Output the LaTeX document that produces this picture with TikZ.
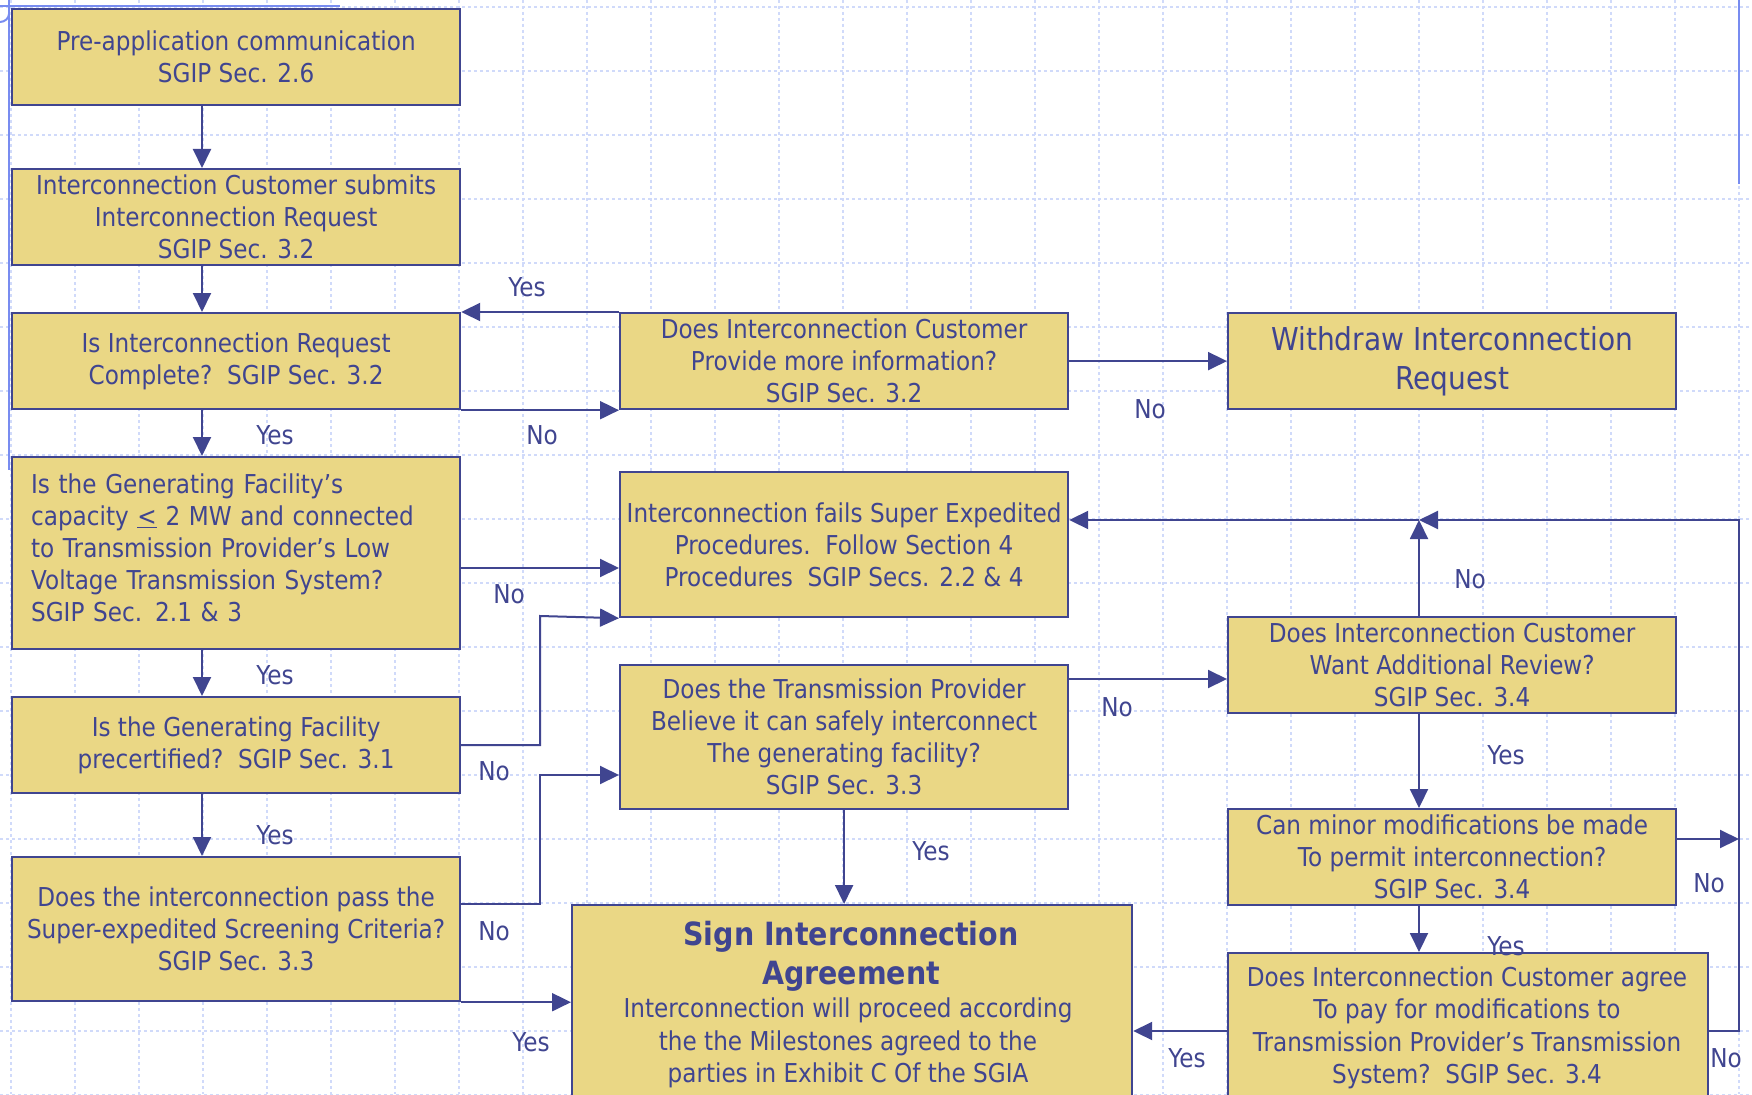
\documentclass[tikz,border=0pt]{standalone}
\usepackage{fontspec}
\setmainfont{DejaVu Sans}[FakeStretch=0.89]
\usetikzlibrary{arrows.meta,calc}
\definecolor{navy}{RGB}{64,69,144}
\definecolor{boxfill}{RGB}{234,215,133}
\definecolor{gridc}{RGB}{208,218,250}
\definecolor{deco}{RGB}{120,140,240}
\tikzset{
  box/.style={draw=navy, fill=boxfill, line width=2.2pt, anchor=north west, inner sep=0pt, text=navy, align=center, font=\fontsize{26}{32}\selectfont},
  txt/.style={text=navy, align=center, inner sep=0pt, font=\fontsize{26}{32.5}\selectfont},
  arr/.style={draw=navy, line width=2pt, -{Triangle[length=19pt,width=18pt]}},
  con/.style={draw=navy, line width=2pt},
  lbl/.style={text=navy, font=\fontsize{26}{32}\selectfont, inner sep=0pt},
  gridl/.style={draw=gridc, line width=1.2pt, dash pattern=on 3pt off 3pt},
  decol/.style={draw=deco, line width=2pt},
}
\begin{document}
\begin{tikzpicture}[x=1pt,y=-1pt]
\useasboundingbox (0,0) rectangle (1752,1094);
\fill[white] (0,0) rectangle (1752,1094);
% grid
\foreach \i in {0,...,27} \draw[gridl] ({11+64*\i},0) -- ({11+64*\i},1094);
\foreach \j in {0,...,17} \draw[gridl] (0,{7+64*\j}) -- (1752,{7+64*\j});
% slide decoration
\draw[decol] (9,0) -- (9,470);
\draw[decol] (0,6) -- (340,6);
\draw[decol] (1739,0) -- (1739,184);
\draw[decol] (0,22) .. controls (5,22) and (9,18) .. (9,14);

% boxes
\node[box, minimum width=448pt, minimum height=96pt] (pre) at (11,8) {Pre-application communication\\SGIP Sec. 2.6};
\node[box, minimum width=448pt, minimum height=96pt] (sub) at (11,168) {Interconnection Customer submits\\Interconnection Request\\SGIP Sec. 3.2};
\node[box, minimum width=448pt, minimum height=96pt] (comp) at (11,312) {Is Interconnection Request\\Complete?\ \ SGIP Sec. 3.2};
\node[box, minimum width=448pt, minimum height=96pt] (more) at (619,312) {Does Interconnection Customer\\Provide more information?\\SGIP Sec. 3.2};
\node[box, minimum width=448pt, minimum height=96pt, font=\fontsize{31.5}{39}\selectfont] (wd) at (1227,312) {Withdraw Interconnection\\Request};
\node[box, minimum width=448pt, minimum height=192pt, text width=410pt, align=left] (cap) at (11,456) {Is the Generating Facility’s\\capacity \underline{<} 2 MW and connected\\to Transmission Provider’s Low\\Voltage Transmission System?\\SGIP Sec. 2.1 \& 3\\[-22pt]\mbox{}};
\node[box, minimum width=448pt, minimum height=145pt] (fail) at (619,471) {Interconnection fails Super Expedited\\Procedures.\ \ Follow Section 4\\Procedures\ \ SGIP Secs. 2.2 \& 4};
\node[box, minimum width=448pt, minimum height=96pt] (precert) at (11,696) {Is the Generating Facility\\precertified?\ \ SGIP Sec. 3.1};
\node[box, minimum width=448pt, minimum height=144pt] (tp) at (619,664) {Does the Transmission Provider\\Believe it can safely interconnect\\The generating facility?\\SGIP Sec. 3.3};
\node[box, minimum width=448pt, minimum height=96pt] (rev) at (1227,616) {Does Interconnection Customer\\Want Additional Review?\\SGIP Sec. 3.4};
\node[box, minimum width=448pt, minimum height=96pt] (minor) at (1227,808) {Can minor modifications be made\\To permit interconnection?\\SGIP Sec. 3.4};
\node[box, minimum width=448pt, minimum height=144pt] (pass) at (11,856) {Does the interconnection pass the\\Super-expedited Screening Criteria?\\SGIP Sec. 3.3};
\node[box, minimum width=560pt, minimum height=220pt] (sign) at (571,904) {};
\node[txt, font=\fontsize{32}{39}\selectfont\bfseries] (signt) at (851,956) {Sign Interconnection\\Agreement};
\node[txt] (signb) at (848,1043) {Interconnection will proceed according\\the the Milestones agreed to the\\parties in Exhibit C Of the SGIA};
\node[box, minimum width=480pt, minimum height=170pt] (agree) at (1227,952) {};
\node[txt] (agreet) at (1467,1028) {Does Interconnection Customer agree\\To pay for modifications to\\Transmission Provider’s Transmission\\System?\ \ SGIP Sec. 3.4};

% helper coordinates
\coordinate (xl) at (202,0);
\coordinate (xr) at (1419,0);
\coordinate (y568) at (0,568);
\coordinate (y679) at (0,679);
\coordinate (y1031) at (0,1031);
\coordinate (k1) at (540,616);
\coordinate (k2) at (540,904);
\coordinate (k3) at (540,775);
\coordinate (k4) at (1419,520);
\coordinate (k5) at (1739,839);
\coordinate (k6) at (1739,1031);
\coordinate (k7) at (1739,520);

% connectors
\draw[arr] (pre.south -| xl) -- (sub.north -| xl);
\draw[arr] (sub.south -| xl) -- (comp.north -| xl);
\draw[arr] (comp.south -| xl) -- (cap.north -| xl);
\draw[arr] (cap.south -| xl) -- (precert.north -| xl);
\draw[arr] (precert.south -| xl) -- (pass.north -| xl);
\draw[arr] (comp.south east) -- (more.south west);
\draw[arr] (more.north west) -- (comp.north east);
\draw[arr] (more.east) -- (wd.west);
\draw[arr] (cap.east |- y568) -- (fail.west |- y568);
\draw[arr] (precert.east) -| (k1) -- (fail.south west);
\draw[arr] (pass.east |- k2) -- (k2) -- (k3) -- (tp.west |- k3);
\draw[arr] (pass.south east) -- (sign.west |- pass.south east);
\draw[arr] (tp.south) -- (tp.south |- sign.north);
\draw[arr] (tp.east |- y679) -- (rev.west |- y679);
\draw[arr] (rev.north -| xr) -- (k4);
\draw[arr] (k4) -- (fail.east |- k4);
\draw[arr] (rev.south -| xr) -- (minor.north -| xr);
\draw[arr] (minor.south -| xr) -- (agree.north -| xr);
\draw[arr] (minor.east |- k5) -- (k5);
\draw[arr] (agree.west |- y1031) -- (sign.east |- y1031);
\draw[arr] (agree.east |- k6) -- (k6) -- (k7) -- (k4);

% labels
\node[lbl] (l1) at (527,287) {Yes};
\node[lbl] (l2) at (542,435) {No};
\node[lbl] (l3) at (275,435) {Yes};
\node[lbl] (l4) at (1150,409) {No};
\node[lbl] (l5) at (509,594) {No};
\node[lbl] (l6) at (275,675) {Yes};
\node[lbl] (l7) at (494,771) {No};
\node[lbl] (l8) at (275,835) {Yes};
\node[lbl] (l9) at (494,931) {No};
\node[lbl] (l10) at (531,1042) {Yes};
\node[lbl] (l11) at (931,851) {Yes};
\node[lbl] (l12) at (1117,707) {No};
\node[lbl] (l13) at (1470,579) {No};
\node[lbl] (l14) at (1506,755) {Yes};
\node[lbl] (l15) at (1506,946) {Yes};
\node[lbl] (l16) at (1709,883) {No};
\node[lbl] (l17) at (1187,1058) {Yes};
\node[lbl] (l18) at (1726,1058) {No};
\end{tikzpicture}
\end{document}
